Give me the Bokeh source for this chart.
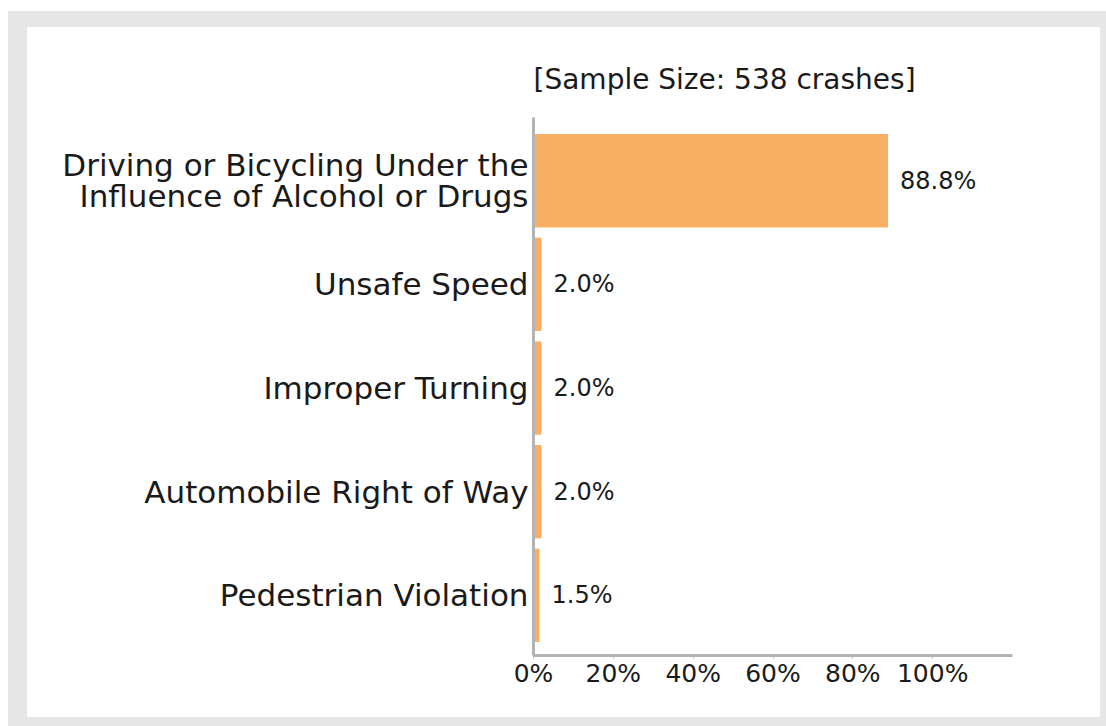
from bokeh.plotting import figure
from bokeh.models import Range1d, FixedTicker, Title
from bokeh.embed import file_html
from bokeh.resources import INLINE

categories = [
    "Driving or Bicycling Under the\nInfluence of Alcohol or Drugs",
    "Unsafe Speed",
    "Improper Turning",
    "Automobile Right of Way",
    "Pedestrian Violation",
]
values = [88.8, 2.0, 2.0, 2.0, 1.5]
x_ticks = [0, 20, 40, 60, 80, 100]
x_tick_labels = ["0%", "20%", "40%", "60%", "80%", "100%"]
title_text = "[Sample Size: 538 crashes]"

FONT = "DejaVu Sans"
TXT = "#1a1a1a"
AXIS = "#b3b3b3"
BAR = "#f8af63"
FRAME = "#e6e6e6"

n = len(categories)
ypos = [n - 1 - i for i in range(n)]
labels = [f"{v:.1f}%" for v in values]

W, H = 1106, 726
p = figure(width=W, height=H, output_backend="svg", toolbar_location=None,
           x_range=Range1d(0, 120), y_range=Range1d(-0.58, 4.61),
           min_border_left=533, min_border_right=94,
           min_border_top=117, min_border_bottom=71,
           border_fill_color=None, background_fill_color=None)
p.outline_line_color = None
p.grid.visible = False

# page frame drawn as CSS background behind the transparent canvas
p.styles = {
    "background-color": "white",
    "background-image": f"linear-gradient(white, white), linear-gradient({FRAME}, {FRAME})",
    "background-size": "1073px 690px, 1098px 715px",
    "background-position": "27px 27px, 8px 11px",
    "background-repeat": "no-repeat",
}

p.hbar(y=ypos, left=0, right=values, height=0.9, fill_color=BAR, line_color=None)
p.text(x=values, y=ypos, text=labels, x_offset=12, text_baseline="middle",
       text_align="left", text_font_size="24px", text_color=TXT,
       text_font={"value": FONT})

p.title = Title(text=title_text, align="left", text_font=FONT, text_font_size="28px",
                text_font_style="normal", text_color=TXT, standoff=44)

xa = p.xaxis[0]
xa.ticker = FixedTicker(ticks=x_ticks)
xa.major_label_overrides = {t: l for t, l in zip(x_ticks, x_tick_labels)}
xa.axis_line_color = AXIS
xa.axis_line_width = 3
xa.major_tick_line_color = AXIS
xa.major_tick_out = 3
xa.major_tick_in = 0
xa.minor_tick_line_color = None
xa.major_label_text_font = FONT
xa.major_label_text_font_size = "25px"
xa.major_label_text_color = TXT
xa.major_label_standoff = 0

ya = p.yaxis[0]
ya.ticker = FixedTicker(ticks=ypos)
ya.major_label_overrides = {y: c for y, c in zip(ypos, categories)}
ya.axis_line_color = AXIS
ya.axis_line_width = 3
ya.major_tick_line_color = None
ya.major_tick_out = 0
ya.major_tick_in = 0
ya.minor_tick_line_color = None
ya.major_label_text_font = FONT
ya.major_label_text_font_size = "31px"
ya.major_label_text_color = TXT
ya.major_label_text_line_height = 0.87
ya.major_label_standoff = 5

open("out.html", "w").write(file_html(p, INLINE))
